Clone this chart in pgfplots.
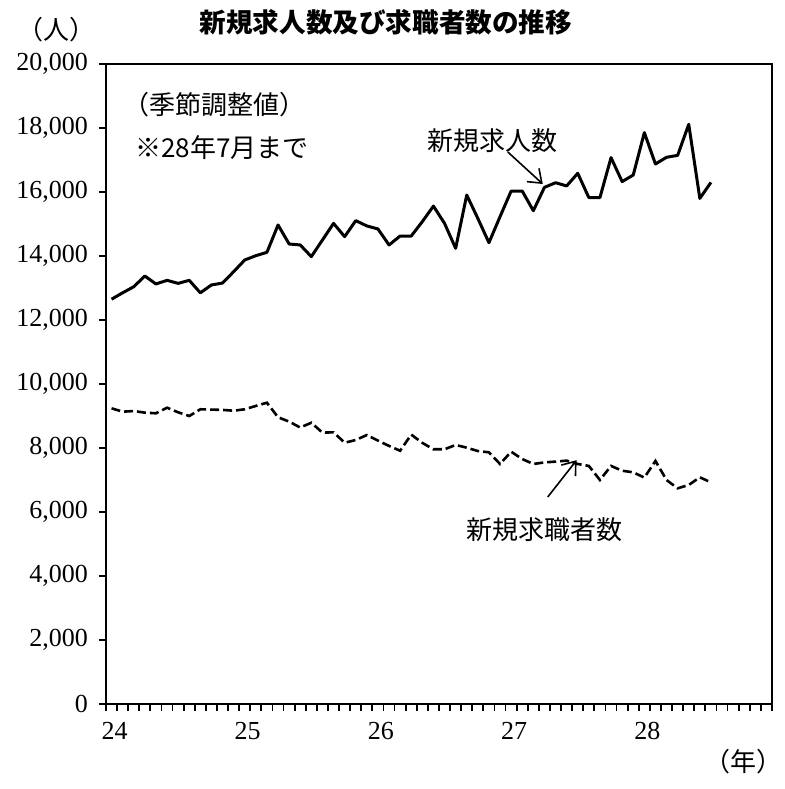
\documentclass[border=0pt]{standalone}
\usepackage{fontspec}
\setmainfont{Liberation Serif}
\newfontfamily\jp{Noto Sans CJK JP}
\usepackage{pgfplots}
\pgfplotsset{compat=1.18}
\usetikzlibrary{arrows.meta}

% monthly values, index 0 = H24 Jan ... 54 = H28 Jul
\pgfplotstableread{
i  kyujin  kyushoku
0  12650  9240
1  12850  9135
2  13040  9155
3  13375  9105
4  13125  9085
5  13240  9260
6  13145  9115
7  13240  9000
8  12850  9210
9  13095  9200
10 13155  9190
11 13510  9165
12 13875  9210
13 14010  9315
14 14115  9415
15 14970  8960
16 14375  8825
17 14345  8640
18 13980  8790
19 14500  8480
20 15020  8490
21 14605  8165
22 15105  8250
23 14940  8405
24 14845  8230
25 14345  8065
26 14625  7915
27 14625  8420
28 15075  8160
29 15560  7960
30 15020  7960
31 14240  8095
32 15905  8010
33 15175  7905
34 14415  7865
35 15230  7500
36 16030  7885
37 16030  7655
38 15415  7500
39 16145  7550
40 16290  7575
41 16190  7605
42 16585  7500
43 15825  7440
44 15825  7000
45 17075  7440
46 16325  7290
47 16530  7240
48 17855  7075
49 16875  7595
50 17085  7000
51 17145  6740
52 18115  6845
53 15800  7085
54 16300  6925
}\datatable

\begin{document}
\begin{tikzpicture}
\useasboundingbox (-53pt,-42.5pt) rectangle (339.5pt,352pt);
\begin{axis}[
    scale only axis,
    width=333pt, height=320pt,
    at={(0,0)}, anchor=south west,
    xmin=-0.5, xmax=59.5,
    ymin=0, ymax=20000,
    axis line style={line width=0.9pt},
    tick align=outside,
    xtick pos=bottom, ytick pos=left,
    xtick={-0.5,0.5,...,59.5},
    xticklabels={},
    extra x ticks={0,12,24,36,48},
    extra x tick labels={24,25,26,27,28},
    extra x tick style={tick style={draw=none}},
    ytick={0,2000,...,20000},
    major tick length=3.5pt,
    tick style={black, line width=0.9pt},
    scaled y ticks=false,
    /pgf/number format/.cd, 1000 sep={,}, assume math mode=true,
    /pgfplots/.cd,
    ticklabel style={font=\fontsize{13}{15}\selectfont},
    xticklabel style={yshift=-2pt, xshift=1.5pt},
    yticklabel style={xshift=-2pt},
    clip=false,
]
\addplot[black, line width=1.5pt, line join=round] table[x=i, y=kyujin] {\datatable};
\addplot[black, line width=1.3pt, dash pattern=on 4.5pt off 2pt] table[x=i, y=kyushoku] {\datatable};

\node[anchor=west, font=\jp\fontsize{13}{15}\selectfont] at (axis cs:0.4,18720) {（季節調整値）};
\node[anchor=west, font=\jp\fontsize{13}{15}\selectfont] at (axis cs:1.5,17400) {※28年7月まで};
\node[font=\jp\fontsize{13}{15}\selectfont] at (axis cs:34.3,17620) {新規求人数};
\draw[-{Straight Barb[length=6pt,width=9pt]}, line width=0.8pt] (axis cs:35.7,17250) -- (axis cs:38.85,16250);
\node[font=\jp\fontsize{13}{15}\selectfont] at (axis cs:39.0,5440) {新規求職者数};
\draw[-{Straight Barb[length=6pt,width=9pt]}, line width=0.8pt] (axis cs:39.3,6470) -- (axis cs:41.9,7620);
\end{axis}
\node[font=\jp\bfseries\fontsize{13.3}{15}\selectfont] at (140pt,341pt) {新規求人数及び求職者数の推移};
\node[font=\jp\fontsize{13}{15}\selectfont] at (-24.5pt,337pt) {（人）};
\node[font=\jp\fontsize{13}{15}\selectfont] at (318.5pt,-29pt) {（年）};
\end{tikzpicture}
\end{document}
